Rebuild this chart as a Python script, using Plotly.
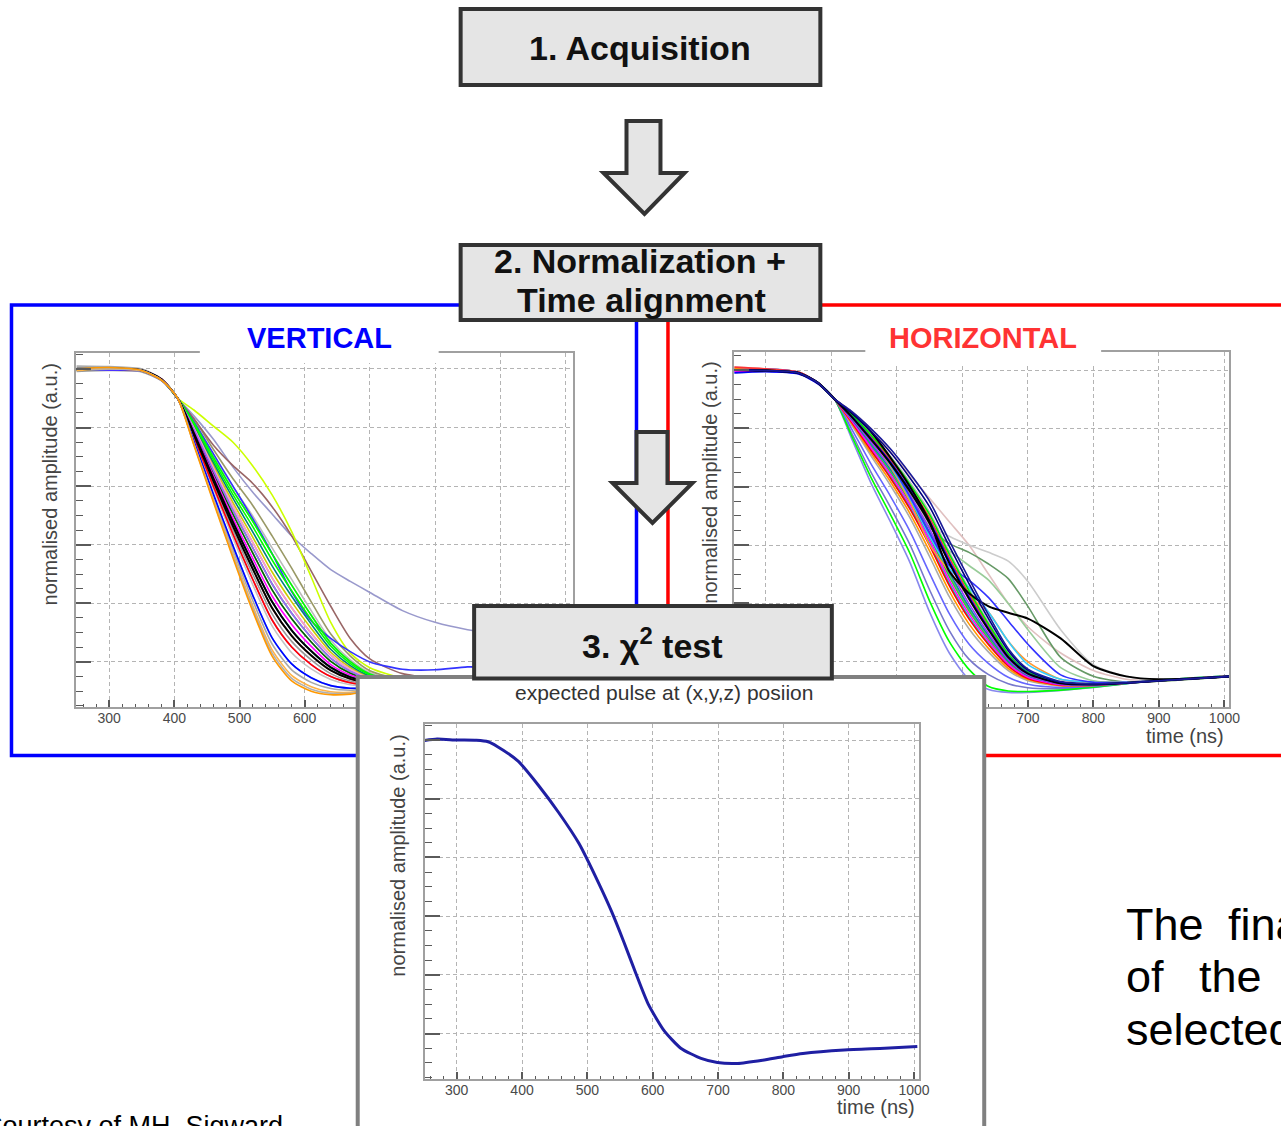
import plotly.graph_objects as go

# ---------------------------------------------------------------- data
# common sampling of the aligned pulses (ns)
TIME_NS = [250, 300, 350, 380, 405, 430, 460, 490, 520, 550,
           580, 610, 640, 670, 700, 750, 800, 850, 900, 1010]

# vertical-segment pulses, normalised amplitude at TIME_NS
VERTICAL_COLORS = [
    "#a8a8a8", "#999999", "#a0a0a0", "#bbbbbb", "#8c8c8c", "#b5b5b5", "#c4c4c4", "#aaaaaa",
    "#999966", "#9999cc", "#996666", "#ccff00", "#3333ff", "#cccc00", "#008080", "#00ff00",
    "#33cc33", "#ff99cc", "#006600", "#00ff00", "#9966ff", "#00ccff", "#ff00ff", "#ff6666",
    "#cc66cc", "#ff0000", "#000000", "#000000", "#66ccff", "#0000ff", "#ffb347", "#b0b0b0",
    "#ff9900",
]
VERTICAL_PULSES = [
    [1.01, 1.008, 1.0, 0.967, 0.901, 0.749, 0.563, 0.382, 0.211, 0.061, -0.027, -0.07, -0.091, -0.097, -0.093, -0.087, -0.079, -0.074, -0.069, -0.06],
    [0.992, 0.995, 0.99, 0.96, 0.90, 0.772, 0.608, 0.45, 0.301, 0.164, 0.07, 0.007, -0.04, -0.065, -0.076, -0.08, -0.075, -0.072, -0.067, -0.058],
    [1.0, 1.003, 0.996, 0.966, 0.90, 0.799, 0.662, 0.531, 0.409, 0.287, 0.185, 0.098, 0.023, -0.026, -0.055, -0.071, -0.07, -0.069, -0.065, -0.057],
    [1.0, 1.0, 0.995, 0.965, 0.90, 0.821, 0.707, 0.598, 0.499, 0.389, 0.282, 0.175, 0.074, 0.007, -0.037, -0.063, -0.067, -0.066, -0.063, -0.056],
    [1.005, 1.003, 0.997, 0.966, 0.90, 0.781, 0.626, 0.477, 0.337, 0.205, 0.108, 0.037, -0.019, -0.052, -0.069, -0.077, -0.073, -0.071, -0.066, -0.058],
    [0.995, 1.0, 0.995, 0.964, 0.90, 0.79, 0.644, 0.504, 0.373, 0.246, 0.147, 0.068, 0.002, -0.039, -0.062, -0.074, -0.072, -0.07, -0.066, -0.057],
    [1.0, 1.0, 0.995, 0.965, 0.90, 0.763, 0.59, 0.423, 0.265, 0.123, 0.031, -0.024, -0.06, -0.078, -0.083, -0.083, -0.076, -0.073, -0.068, -0.059],
    [1.0, 1.0, 0.995, 0.965, 0.90, 0.817, 0.698, 0.585, 0.481, 0.369, 0.262, 0.159, 0.064, 0.001, -0.041, -0.065, -0.067, -0.067, -0.063, -0.056],
    [1.0, 1.0, 0.995, 0.965, 0.90, 0.83, 0.725, 0.625, 0.535, 0.43, 0.32, 0.205, 0.095, 0.02, -0.03, -0.06, -0.065, -0.065, -0.062, -0.055],
    [1.0, 1.0, 0.995, 0.965, 0.90, 0.84, 0.76, 0.665, 0.58, 0.505, 0.43, 0.37, 0.315, 0.275, 0.237, 0.175, 0.135, 0.11, 0.095, 0.075],
    [1.0, 1.0, 0.995, 0.965, 0.90, 0.83, 0.74, 0.67, 0.61, 0.53, 0.43, 0.31, 0.19, 0.08, 0.01, -0.04, -0.055, -0.06, -0.06, -0.055],
    [1.0, 1.0, 0.995, 0.965, 0.90, 0.86, 0.805, 0.75, 0.67, 0.57, 0.445, 0.29, 0.135, 0.03, -0.02, -0.055, -0.063, -0.064, -0.062, -0.055],
    [1.0, 1.0, 0.995, 0.965, 0.90, 0.82, 0.71, 0.60, 0.49, 0.37, 0.24, 0.14, 0.08, 0.035, 0.0, -0.025, -0.027, -0.017, -0.02, -0.03],
    [1.0, 1.0, 0.995, 0.965, 0.90, 0.803, 0.671, 0.544, 0.427, 0.307, 0.205, 0.114, 0.033, -0.019, -0.051, -0.069, -0.07, -0.068, -0.064, -0.057],
    [0.997, 0.998, 0.993, 0.963, 0.90, 0.808, 0.68, 0.558, 0.445, 0.328, 0.224, 0.129, 0.043, -0.013, -0.048, -0.068, -0.069, -0.068, -0.064, -0.056],
    [1.0, 1.0, 0.995, 0.965, 0.90, 0.812, 0.689, 0.571, 0.463, 0.348, 0.243, 0.144, 0.054, -0.006, -0.044, -0.066, -0.068, -0.067, -0.064, -0.056],
    [1.0, 0.998, 0.994, 0.965, 0.90, 0.794, 0.653, 0.517, 0.391, 0.266, 0.166, 0.083, 0.012, -0.032, -0.058, -0.072, -0.071, -0.069, -0.065, -0.057],
    [1.0, 1.0, 0.995, 0.965, 0.90, 0.799, 0.662, 0.531, 0.409, 0.287, 0.185, 0.098, 0.023, -0.026, -0.055, -0.071, -0.07, -0.069, -0.065, -0.057],
    [1.0, 1.0, 0.995, 0.965, 0.90, 0.79, 0.644, 0.504, 0.373, 0.246, 0.147, 0.068, 0.002, -0.039, -0.062, -0.074, -0.072, -0.07, -0.066, -0.057],
    [1.0, 1.0, 0.995, 0.965, 0.90, 0.817, 0.698, 0.585, 0.481, 0.369, 0.262, 0.159, 0.064, 0.001, -0.041, -0.065, -0.067, -0.067, -0.063, -0.056],
    [1.0, 0.996, 0.993, 0.962, 0.90, 0.794, 0.653, 0.517, 0.391, 0.266, 0.166, 0.083, 0.012, -0.032, -0.058, -0.072, -0.071, -0.069, -0.065, -0.057],
    [1.0, 1.0, 0.995, 0.965, 0.90, 0.781, 0.626, 0.477, 0.337, 0.205, 0.108, 0.037, -0.019, -0.052, -0.069, -0.077, -0.073, -0.071, -0.066, -0.058],
    [1.0, 1.0, 0.996, 0.966, 0.90, 0.785, 0.635, 0.49, 0.355, 0.225, 0.128, 0.053, -0.009, -0.045, -0.065, -0.075, -0.073, -0.07, -0.066, -0.058],
    [1.0, 1.0, 0.995, 0.965, 0.90, 0.776, 0.617, 0.463, 0.319, 0.184, 0.089, 0.022, -0.029, -0.058, -0.072, -0.078, -0.074, -0.071, -0.067, -0.058],
    [1.0, 1.0, 0.995, 0.965, 0.90, 0.767, 0.599, 0.436, 0.283, 0.143, 0.051, -0.009, -0.05, -0.071, -0.079, -0.081, -0.076, -0.072, -0.068, -0.059],
    [1.0, 1.0, 0.995, 0.965, 0.90, 0.767, 0.599, 0.436, 0.283, 0.143, 0.051, -0.009, -0.05, -0.071, -0.079, -0.081, -0.076, -0.072, -0.068, -0.059],
    [1.0, 1.0, 0.996, 0.965, 0.90, 0.776, 0.617, 0.463, 0.319, 0.184, 0.089, 0.022, -0.029, -0.058, -0.072, -0.078, -0.074, -0.071, -0.067, -0.058],
    [0.998, 1.002, 0.995, 0.964, 0.90, 0.781, 0.626, 0.477, 0.337, 0.205, 0.108, 0.037, -0.019, -0.052, -0.069, -0.077, -0.073, -0.071, -0.066, -0.058],
    [1.0, 1.0, 0.995, 0.963, 0.90, 0.754, 0.572, 0.396, 0.229, 0.082, -0.007, -0.054, -0.081, -0.09, -0.09, -0.086, -0.078, -0.074, -0.069, -0.059],
    [1.0, 0.998, 0.994, 0.962, 0.899, 0.754, 0.572, 0.396, 0.229, 0.082, -0.007, -0.054, -0.081, -0.09, -0.09, -0.086, -0.078, -0.074, -0.069, -0.059],
    [0.995, 1.0, 0.993, 0.963, 0.90, 0.745, 0.554, 0.369, 0.193, 0.041, -0.046, -0.085, -0.102, -0.104, -0.097, -0.089, -0.079, -0.075, -0.07, -0.06],
    [1.0, 1.0, 0.995, 0.962, 0.90, 0.742, 0.55, 0.362, 0.184, 0.03, -0.056, -0.093, -0.107, -0.107, -0.099, -0.09, -0.08, -0.075, -0.07, -0.06],
    [1.0, 1.005, 0.995, 0.962, 0.90, 0.74, 0.545, 0.355, 0.175, 0.02, -0.065, -0.10, -0.112, -0.11, -0.10, -0.09, -0.08, -0.075, -0.07, -0.06],
]

# horizontal-segment pulses, normalised amplitude at TIME_NS
HORIZONTAL_COLORS = [
    "#aaaaaa", "#999999", "#b8b8b8", "#e0c0c0", "#cccccc", "#669966", "#99cc99", "#8888ee",
    "#7777cc", "#00ff00", "#6666ff", "#00cccc", "#33cc33", "#ff9900", "#ff0000", "#ff00ff",
    "#009999", "#9933ff", "#ff9933", "#33ccff", "#3333ff", "#ff3333", "#00ee00", "#0000ff",
    "#000000", "#000000", "#000080", "#1a1a99",
]
HORIZONTAL_PULSES = [
    [1.005, 1.0, 0.99, 0.955, 0.90, 0.815, 0.708, 0.605, 0.493, 0.36, 0.223, 0.113, 0.033, -0.03, -0.065, -0.083, -0.082, -0.074, -0.064, -0.049],
    [0.995, 0.997, 0.988, 0.953, 0.90, 0.833, 0.745, 0.655, 0.554, 0.436, 0.30, 0.182, 0.084, 0.0, -0.049, -0.077, -0.079, -0.073, -0.064, -0.049],
    [1.0, 1.003, 0.992, 0.957, 0.90, 0.851, 0.782, 0.705, 0.615, 0.512, 0.377, 0.251, 0.135, 0.03, -0.033, -0.071, -0.076, -0.072, -0.065, -0.05],
    [1.01, 1.004, 0.993, 0.956, 0.90, 0.86, 0.80, 0.72, 0.64, 0.56, 0.48, 0.40, 0.30, 0.20, 0.12, 0.03, -0.03, -0.06, -0.063, -0.05],
    [0.99, 0.994, 0.986, 0.952, 0.90, 0.85, 0.78, 0.69, 0.58, 0.47, 0.43, 0.40, 0.375, 0.345, 0.275, 0.11, -0.01, -0.05, -0.062, -0.05],
    [1.0, 0.998, 0.99, 0.955, 0.90, 0.85, 0.78, 0.69, 0.57, 0.46, 0.405, 0.375, 0.335, 0.285, 0.19, 0.015, -0.05, -0.07, -0.067, -0.05],
    [1.0, 0.998, 0.99, 0.955, 0.90, 0.85, 0.78, 0.68, 0.56, 0.43, 0.38, 0.33, 0.28, 0.20, 0.11, -0.02, -0.065, -0.07, -0.065, -0.05],
    [1.005, 1.0, 0.99, 0.955, 0.90, 0.77, 0.615, 0.48, 0.34, 0.17, 0.03, -0.06, -0.095, -0.105, -0.105, -0.098, -0.088, -0.075, -0.063, -0.048],
    [0.995, 0.996, 0.988, 0.953, 0.90, 0.788, 0.652, 0.53, 0.401, 0.246, 0.107, 0.009, -0.044, -0.075, -0.089, -0.092, -0.085, -0.074, -0.063, -0.048],
    [1.0, 0.998, 0.99, 0.955, 0.90, 0.779, 0.634, 0.505, 0.371, 0.208, 0.069, -0.026, -0.085, -0.10, -0.102, -0.097, -0.087, -0.075, -0.063, -0.048],
    [0.998, 1.0, 0.99, 0.955, 0.90, 0.802, 0.68, 0.568, 0.447, 0.303, 0.165, 0.061, -0.006, -0.053, -0.077, -0.088, -0.083, -0.074, -0.064, -0.049],
    [1.0, 1.003, 0.992, 0.957, 0.90, 0.826, 0.73, 0.635, 0.529, 0.406, 0.269, 0.154, 0.063, -0.012, -0.055, -0.079, -0.08, -0.073, -0.064, -0.049],
    [1.0, 0.998, 0.99, 0.955, 0.90, 0.831, 0.741, 0.65, 0.547, 0.428, 0.292, 0.175, 0.078, -0.003, -0.051, -0.078, -0.079, -0.073, -0.064, -0.049],
    [1.005, 1.0, 0.99, 0.955, 0.90, 0.82, 0.717, 0.618, 0.508, 0.379, 0.242, 0.13, 0.045, -0.023, -0.061, -0.082, -0.081, -0.073, -0.064, -0.049],
    [1.0, 0.998, 0.99, 0.955, 0.90, 0.824, 0.726, 0.63, 0.523, 0.398, 0.261, 0.147, 0.058, -0.015, -0.057, -0.08, -0.08, -0.073, -0.064, -0.049],
    [0.995, 0.997, 0.988, 0.953, 0.90, 0.829, 0.735, 0.643, 0.538, 0.417, 0.28, 0.164, 0.071, -0.008, -0.053, -0.079, -0.08, -0.073, -0.064, -0.049],
    [1.0, 0.998, 0.99, 0.955, 0.90, 0.835, 0.748, 0.66, 0.56, 0.444, 0.307, 0.188, 0.089, 0.003, -0.047, -0.076, -0.079, -0.073, -0.064, -0.049],
    [1.0, 1.003, 0.992, 0.957, 0.90, 0.838, 0.754, 0.668, 0.569, 0.455, 0.319, 0.199, 0.096, 0.008, -0.045, -0.076, -0.078, -0.073, -0.065, -0.05],
    [1.0, 0.998, 0.99, 0.955, 0.90, 0.85, 0.77, 0.67, 0.55, 0.40, 0.31, 0.225, 0.17, 0.07, 0.0, -0.06, -0.07, -0.07, -0.064, -0.05],
    [1.0, 0.998, 0.99, 0.955, 0.90, 0.85, 0.77, 0.675, 0.56, 0.43, 0.32, 0.255, 0.17, 0.07, -0.01, -0.06, -0.07, -0.07, -0.064, -0.05],
    [1.0, 0.998, 0.99, 0.955, 0.90, 0.85, 0.775, 0.68, 0.565, 0.44, 0.33, 0.28, 0.22, 0.14, 0.06, -0.045, -0.07, -0.07, -0.064, -0.05],
    [1.01, 1.004, 0.993, 0.956, 0.90, 0.847, 0.772, 0.693, 0.599, 0.493, 0.357, 0.233, 0.122, 0.023, -0.037, -0.073, -0.077, -0.072, -0.065, -0.05],
    [1.0, 0.998, 0.99, 0.955, 0.90, 0.849, 0.778, 0.70, 0.608, 0.504, 0.369, 0.244, 0.129, 0.027, -0.035, -0.072, -0.077, -0.072, -0.065, -0.05],
    [0.99, 0.994, 0.986, 0.952, 0.90, 0.844, 0.767, 0.685, 0.59, 0.482, 0.346, 0.223, 0.114, 0.018, -0.039, -0.073, -0.077, -0.073, -0.065, -0.05],
    [1.0, 0.998, 0.99, 0.955, 0.90, 0.855, 0.79, 0.70, 0.60, 0.48, 0.31, 0.235, 0.19, 0.168, 0.148, 0.08, -0.015, -0.05, -0.06, -0.05],
    [1.0, 0.998, 0.99, 0.955, 0.90, 0.842, 0.763, 0.68, 0.584, 0.474, 0.338, 0.216, 0.109, 0.015, -0.041, -0.074, -0.078, -0.073, -0.065, -0.05],
    [1.0, 0.998, 0.99, 0.955, 0.90, 0.856, 0.791, 0.718, 0.63, 0.531, 0.396, 0.268, 0.147, 0.038, -0.029, -0.07, -0.076, -0.072, -0.065, -0.05],
    [1.0, 0.998, 0.99, 0.955, 0.90, 0.86, 0.80, 0.73, 0.645, 0.55, 0.415, 0.285, 0.16, 0.045, -0.025, -0.068, -0.075, -0.072, -0.065, -0.05],
]

# expected pulse at the (x,y,z) position
EXPECTED_TIME_NS = [251, 270, 300, 330, 348, 362, 394, 425, 456, 487, 518, 537, 556, 574,
                    593, 618, 643, 674, 699, 730, 768, 799, 830, 893, 955, 1005]
EXPECTED_PULSE = [0.998, 1.003, 1.0, 0.999, 0.994, 0.978, 0.928, 0.846, 0.753, 0.648, 0.509, 0.416, 0.311, 0.206,
                  0.101, 0.008, -0.05, -0.085, -0.099, -0.102, -0.091, -0.079, -0.068, -0.056, -0.05, -0.044]

TIME_TICKS = [300, 400, 500, 600, 700, 800, 900, 1000]

# ---------------------------------------------------------------- page geometry
W, H = 1281, 1126
X_SPAN = 1271          # horizontal pixel span that paper coordinates are laid out on
FONT = "Liberation Sans"
GRID = "#b4b4b4"
FRAME = "#a0a0a0"
TICK = "#5a5a5a"
BOX_FILL = "#e5e5e5"
BOX_LINE = "#333333"
PULSE_WIDTH = 1.6


def fx(x):
    return x / X_SPAN


def fy(y):
    return 1 - y / H


def rect(x0, y0, x1, y1, **kw):
    return dict(type="rect", xref="paper", yref="paper",
                x0=fx(x0), x1=fx(x1), y0=fy(y1), y1=fy(y0), **kw)


def poly(points, **kw):
    path = "M " + " L ".join(f"{fx(x):.5f},{fy(y):.5f}" for x, y in points) + " Z"
    return dict(type="path", xref="paper", yref="paper", path=path, **kw)


def time_axis(domain, rng, anchor):
    return dict(domain=domain, range=rng, anchor=anchor,
                tickmode="array", tickvals=TIME_TICKS, ticktext=[str(t) for t in TIME_TICKS],
                ticks="inside", ticklen=7, tickwidth=1.5, tickcolor=TICK,
                tickfont=dict(family=FONT, size=14, color="#4a4a4a"), ticklabelstandoff=-3,
                showgrid=True, gridcolor=GRID, gridwidth=1, griddash="4px,3px",
                showline=True, linecolor=FRAME, linewidth=2, mirror=True, zeroline=False,
                minor=dict(ticks="inside", ticklen=3.5, tickwidth=1.2, tickcolor=TICK,
                           tickmode="linear", tick0=0, dtick=20, showgrid=False),
                fixedrange=True)


def amp_axis(domain, rng, anchor):
    return dict(domain=domain, range=rng, anchor=anchor,
                tickmode="linear", tick0=0, dtick=0.2,
                ticks="inside", ticklen=15, tickwidth=1.5, tickcolor=TICK, showticklabels=False,
                showgrid=True, gridcolor=GRID, gridwidth=1, griddash="4px,3px",
                showline=True, linecolor=FRAME, linewidth=2, mirror=True, zeroline=False,
                minor=dict(ticks="inside", ticklen=7, tickwidth=1.2, tickcolor=TICK,
                           tickmode="linear", tick0=0, dtick=0.05, showgrid=False),
                fixedrange=True)


def hidden_axis(domain, anchor):
    return dict(domain=domain, range=[0, 1], anchor=anchor, visible=False,
                showgrid=False, zeroline=False, fixedrange=True)


fig = go.Figure()

# vertical-segment pulses
for color, pulse in zip(VERTICAL_COLORS, VERTICAL_PULSES):
    fig.add_trace(go.Scatter(
        x=TIME_NS, y=pulse, xaxis="x", yaxis="y", mode="lines",
        line=dict(color=color, width=2.0 if color == "#000000" else PULSE_WIDTH,
                  shape="spline", smoothing=0.7),
        hoverinfo="skip", showlegend=False))

# horizontal-segment pulses
for color, pulse in zip(HORIZONTAL_COLORS, HORIZONTAL_PULSES):
    fig.add_trace(go.Scatter(
        x=TIME_NS, y=pulse, xaxis="x2", yaxis="y2", mode="lines",
        line=dict(color=color, width=2.0 if color == "#000000" else PULSE_WIDTH,
                  shape="spline", smoothing=0.7),
        hoverinfo="skip", showlegend=False))

# white panel holding the expected pulse (its background hides what lies under it)
fig.add_trace(go.Scatter(x=[0.5], y=[0.5], xaxis="x3", yaxis="y3", mode="markers",
                         marker=dict(opacity=0), hoverinfo="skip", showlegend=False))

# expected pulse
fig.add_trace(go.Scatter(
    x=EXPECTED_TIME_NS, y=EXPECTED_PULSE, xaxis="x4", yaxis="y4", mode="lines",
    line=dict(color="#1f1fa3", width=3, shape="spline", smoothing=0.6),
    hoverinfo="skip", showlegend=False))

# carrier of the horizontal plot's amplitude title
fig.add_trace(go.Scatter(x=[0.5], y=[0.5], xaxis="x5", yaxis="y5", mode="markers",
                         marker=dict(opacity=0), hoverinfo="skip", showlegend=False))

amp_title = "normalised amplitude (a.u.)"

fig.update_layout(
    width=W, height=H, autosize=False,
    margin=dict(l=0, r=0, t=0, b=0),
    paper_bgcolor="#ffffff", plot_bgcolor="#ffffff",
    showlegend=False, hovermode=False,
    font=dict(family=FONT),
    xaxis=time_axis([fx(76), fx(573)], [249, 1011], "y"),
    yaxis=amp_axis([fy(707), fy(353)], [-0.154, 1.0546], "x"),
    xaxis2=time_axis([fx(735), fx(1230)], [252, 1007], "y2"),
    yaxis2=amp_axis([fy(707), fy(352)], [-0.155, 1.0617], "x2"),
    xaxis3=hidden_axis([fx(358), fx(985)], "y3"),
    yaxis3=hidden_axis([0, fy(677)], "x3"),
    xaxis4=time_axis([fx(425), fx(920)], [251, 1008], "y4"),
    yaxis4=amp_axis([fy(1079), fy(724)], [-0.155, 1.0545], "x4"),
    xaxis5=hidden_axis([fx(725), fx(730)], "y5"),
    yaxis5=dict(domain=[fy(605), fy(360)], range=[0, 1], anchor="x5",
                showline=False, showgrid=False, zeroline=False, ticks="",
                showticklabels=False, fixedrange=True,
                title=dict(text=amp_title, standoff=0,
                           font=dict(family=FONT, size=20, color="#444444"))),
)

shapes = [
    # coloured frames grouping each segment
    rect(11.5, 305, 637, 755.5, line=dict(color="#0000ff", width=3.5), layer="below"),
    rect(668.5, 305, 1340, 755.5, line=dict(color="#ff0000", width=3.5), layer="below"),
    # title patches over the plot frames
    rect(200, 311, 439, 363, fillcolor="#ffffff", line=dict(width=0), layer="above"),
    rect(866, 311, 1102, 363, fillcolor="#ffffff", line=dict(width=0), layer="above"),
    # panel outline
    rect(358, 677, 985, 1170, line=dict(color="#808080", width=4), layer="above"),
    # workflow boxes and arrows
    rect(461, 9, 821, 85, fillcolor=BOX_FILL, line=dict(color=BOX_LINE, width=4), layer="above"),
    poly([(627, 121), (661, 121), (661, 173), (685, 173), (645, 214), (604, 173), (627, 173)],
         fillcolor=BOX_FILL, line=dict(color=BOX_LINE, width=4), layer="above"),
    rect(461, 245, 821, 320, fillcolor=BOX_FILL, line=dict(color=BOX_LINE, width=4), layer="above"),
    poly([(637, 432), (668, 432), (668, 483), (693, 483), (653, 523), (613, 483), (637, 483)],
         fillcolor=BOX_FILL, line=dict(color=BOX_LINE, width=4), layer="above"),
    rect(474.5, 606, 832.5, 678.5, fillcolor=BOX_FILL, line=dict(color=BOX_LINE, width=4), layer="above"),
]
fig.update_layout(shapes=shapes)


def label(text, x, y, size, color="#111111", xanchor="center", angle=0):
    return dict(text=text, x=fx(x), y=fy(y), xref="paper", yref="paper",
                xanchor=xanchor, yanchor="middle", showarrow=False, textangle=angle,
                font=dict(family=FONT, size=size, color=color))


annotations = [
    label("<b>1. Acquisition</b>", 641, 48, 34),
    label("<b>2. Normalization +</b>", 641, 261, 34),
    label("<b>Time alignment</b>", 642, 300, 34),
    label("<b>3. χ<sup>2</sup> test</b>", 653, 643, 34),
    label("<b>VERTICAL</b>", 319.5, 338, 29, color="#0000ff"),
    label("<b>HORIZONTAL</b>", 984, 338, 29, color="#ff3333"),
    label(amp_title, 51, 484.5, 20, color="#444444", angle=-90),
    label("time (ns)", 1227, 736, 20, color="#444444", xanchor="right"),
    label("expected pulse at (x,y,z) posiion", 665, 692.5, 21, color="#333333"),
    label(amp_title, 398, 856, 20, color="#444444", angle=-90),
    label("time (ns)", 917.5, 1107, 20, color="#444444", xanchor="right"),
    label("The", 1125, 924.5, 45, color="#000000", xanchor="left"),
    label("final", 1227, 924.5, 45, color="#000000", xanchor="left"),
    label("of", 1125, 976.5, 45, color="#000000", xanchor="left"),
    label("the", 1198, 976.5, 45, color="#000000", xanchor="left"),
    label("selected", 1125, 1029.5, 45, color="#000000", xanchor="left"),
    label("Courtesy of MH. Sigward", -19, 1125.5, 27, color="#000000", xanchor="left"),
]
fig.update_layout(annotations=annotations)

fig.write_html("out.html", config={"responsive": False})
